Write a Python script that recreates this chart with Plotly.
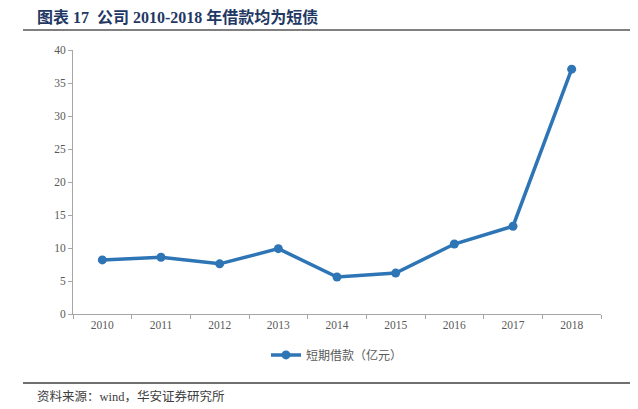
import plotly.graph_objects as go

years = ["2010", "2011", "2012", "2013", "2014", "2015", "2016", "2017", "2018"]
short_loans = [8.2, 8.6, 7.6, 9.9, 5.6, 6.2, 10.6, 13.3, 37.1]
series_name = "短期借款（亿元）"
title_text = "图表 17  公司 2010-2018 年借款均为短债"
source_text = "资料来源：wind，华安证券研究所"

fig = go.Figure()
fig.add_trace(go.Scatter(
    x=years, y=short_loans, mode="lines+markers", name=series_name,
    line=dict(color="#2E75B6", width=3.5),
    marker=dict(color="#2E75B6", size=9),
))

serif = "Liberation Serif, Noto Sans CJK SC, serif"
PL, PR = 73, 601   # plot left/right in window pixels
PT, PB = 50, 314   # plot top/bottom in window pixels
PW, PH = PR - PL, PB - PT


def px(x):
    return (x - PL) / PW


def py(y):
    return (PB - y) / PH


fig.update_layout(
    width=630, height=401,
    margin=dict(l=PL - 8, r=630 - (PR - 8), t=PT - 8, b=401 - (PB - 8)),
    paper_bgcolor="white", plot_bgcolor="white",
    showlegend=True,
    legend=dict(orientation="h", x=0.5, xanchor="center", y=-0.10, yanchor="top",
                font=dict(family=serif, size=12, color="#595959")),
    xaxis=dict(type="category", showline=True, linecolor="#A6A6A6", linewidth=1,
               ticks="outside", tickson="boundaries", ticklen=4, tickcolor="#A6A6A6",
               tickfont=dict(family=serif, size=11.5, color="#595959"), showgrid=False,
               range=[-0.5, 8.5]),
    yaxis=dict(range=[0, 40], dtick=5, showline=True, linecolor="#A6A6A6", linewidth=1,
               ticks="outside", ticklen=4, tickcolor="#A6A6A6",
               tickfont=dict(family=serif, size=11.5, color="#595959"), showgrid=False,
               zeroline=False),
    shapes=[
        dict(type="line", xref="paper", yref="paper", x0=px(23), x1=px(633),
             y0=py(30), y1=py(30), line=dict(color="#808080", width=2)),
        dict(type="line", xref="paper", yref="paper", x0=px(23), x1=px(633),
             y0=py(383), y1=py(383), line=dict(color="#404040", width=1.5)),
    ],
    annotations=[
        dict(text="<b>" + title_text + "</b>", xref="paper", yref="paper",
             x=px(35), y=py(17), xanchor="left", yanchor="middle", showarrow=False,
             font=dict(family=serif, size=16, color="#1F3864")),
        dict(text=source_text, xref="paper", yref="paper",
             x=px(35), y=py(396), xanchor="left", yanchor="middle", showarrow=False,
             font=dict(family=serif, size=12.5, color="#404040")),
    ],
)

fig.write_html("out.html")
